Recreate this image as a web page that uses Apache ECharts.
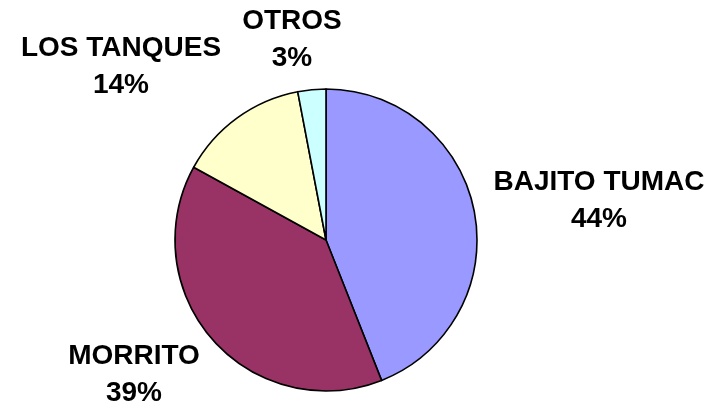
<!DOCTYPE html>
<html>
<head>
<meta charset="utf-8">
<script src="https://cdn.jsdelivr.net/npm/echarts@6/dist/echarts.min.js"></script>
<style>
  html, body { margin: 0; padding: 0; background: #fff; }
  #chart { width: 719px; height: 411px; }
</style>
</head>
<body>
<div id="chart"></div>
<script>
// datos del grafico
var categories = ['BAJITO TUMAC', 'MORRITO', 'LOS TANQUES', 'OTROS'];
var values = [44, 39, 14, 3];
var colors = ['#9999FF', '#993366', '#FFFFCC', '#CCFFFF'];

// posicion de las etiquetas (centro del bloque de texto)
var labelPos = [[599, 201], [134, 375], [121, 67], [292, 40]];

var myChart = echarts.init(document.getElementById('chart'));
var option = {
    animation: false,
    series: [{
        type: 'pie',
        center: [326, 240],
        radius: 151,
        startAngle: 90,
        clockwise: true,
        data: categories.map(function (name, i) {
            return { name: name, value: values[i], itemStyle: { color: colors[i] } };
        }),
        itemStyle: {
            borderColor: '#000',
            borderWidth: 1.6
        },
        label: {
            show: true,
            formatter: '{b}\n{d}%',
            color: '#000',
            fontFamily: 'Liberation Sans, Arial, sans-serif',
            fontWeight: 'bold',
            fontSize: 28,
            lineHeight: 37,
            align: 'center',
            overflow: 'none',
            width: 300
        },
        labelLine: { show: false },
        labelLayout: function (params) {
            var p = labelPos[params.dataIndex];
            return { x: p[0], y: p[1], align: 'center', verticalAlign: 'middle' };
        }
    }]
};
myChart.setOption(option);
</script>
</body>
</html>
